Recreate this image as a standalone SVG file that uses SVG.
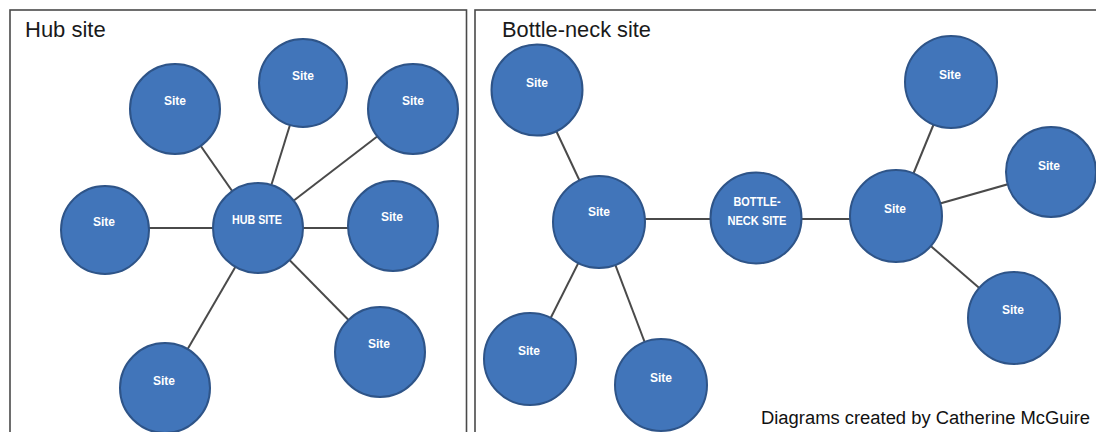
<svg xmlns="http://www.w3.org/2000/svg" width="1096" height="432" viewBox="0 0 1096 432">
<style>
.frame{fill:none;stroke:#4a4a4a;stroke-width:1.6}
.title{font-family:"Liberation Sans",Arial,sans-serif;font-size:22px;fill:#1a1a1a}
.credit{font-family:"Liberation Sans",Arial,sans-serif;font-size:18px;fill:#111}
.node circle{fill:#4175ba;stroke:#2e5488;stroke-width:2}
.node text{font-family:"Liberation Sans",Arial,sans-serif;font-size:12px;font-weight:bold;fill:#fff;text-anchor:middle}
#connectors line{stroke:#4a4a4a;stroke-width:2}
</style>
<rect x="0" y="0" width="1096" height="432" fill="#fff"/>
<g id="frames">
<rect class="frame" x="10" y="10" width="456.5" height="440"/>
<rect class="frame" x="475" y="10" width="640" height="440"/>
</g>
<text class="title" x="25" y="37">Hub site</text>
<text class="title" x="502" y="37" textLength="149" lengthAdjust="spacingAndGlyphs">Bottle-neck site</text>
<g id="connectors">
<line x1="258" y1="228" x2="175" y2="109"/>
<line x1="258" y1="228" x2="303" y2="83"/>
<line x1="258" y1="228" x2="413" y2="109"/>
<line x1="258" y1="228" x2="105" y2="228"/>
<line x1="258" y1="228" x2="393" y2="228"/>
<line x1="258" y1="228" x2="380" y2="352"/>
<line x1="258" y1="228" x2="165" y2="388"/>
<line x1="599" y1="222" x2="537" y2="90"/>
<line x1="599" y1="222" x2="530" y2="359"/>
<line x1="599" y1="222" x2="661" y2="385"/>
<line x1="599" y1="219" x2="756" y2="219"/>
<line x1="756" y1="219" x2="896" y2="219"/>
<line x1="896" y1="216" x2="951" y2="82"/>
<line x1="896" y1="216" x2="1051" y2="172"/>
<line x1="896" y1="216" x2="1014" y2="318"/>
</g>
<g id="hub-n1" class="node"><circle cx="175" cy="109" r="45"/><text x="175" y="105">Site</text></g>
<g id="hub-n2" class="node"><circle cx="303" cy="83" r="44"/><text x="303" y="80">Site</text></g>
<g id="hub-n3" class="node"><circle cx="413" cy="109" r="45"/><text x="413" y="105">Site</text></g>
<g id="hub-n4" class="node"><circle cx="105" cy="230" r="44"/><text x="104" y="226">Site</text></g>
<g id="hub-center" class="node"><circle cx="258" cy="228" r="45"/><text x="257" y="224" textLength="50" lengthAdjust="spacingAndGlyphs">HUB SITE</text></g>
<g id="hub-n5" class="node"><circle cx="393" cy="226" r="45"/><text x="392" y="221">Site</text></g>
<g id="hub-n6" class="node"><circle cx="380" cy="352" r="45"/><text x="379" y="348">Site</text></g>
<g id="hub-n7" class="node"><circle cx="165" cy="388" r="45"/><text x="164" y="385">Site</text></g>
<g id="bn-tl" class="node"><circle cx="537" cy="90" r="45.5"/><text x="537" y="87">Site</text></g>
<g id="bn-left" class="node"><circle cx="599" cy="222" r="46"/><text x="599" y="216">Site</text></g>
<g id="bn-bl" class="node"><circle cx="530" cy="359" r="46"/><text x="529" y="355">Site</text></g>
<g id="bn-bm" class="node"><circle cx="661" cy="385" r="46"/><text x="661" y="382">Site</text></g>
<g id="bn-center" class="node"><circle cx="756" cy="218" r="45.5"/><text x="757" y="206" textLength="47" lengthAdjust="spacingAndGlyphs">BOTTLE-</text><text x="757" y="225" textLength="59" lengthAdjust="spacingAndGlyphs">NECK SITE</text></g>
<g id="bn-right" class="node"><circle cx="896" cy="216" r="46"/><text x="895" y="213">Site</text></g>
<g id="bn-top" class="node"><circle cx="951" cy="82" r="46"/><text x="950" y="79">Site</text></g>
<g id="bn-rt" class="node"><circle cx="1051" cy="172" r="45"/><text x="1049" y="170">Site</text></g>
<g id="bn-br" class="node"><circle cx="1014" cy="318" r="46"/><text x="1013" y="314">Site</text></g>
<text class="credit" x="761" y="424" textLength="329" lengthAdjust="spacingAndGlyphs">Diagrams created by Catherine McGuire</text>
</svg>
